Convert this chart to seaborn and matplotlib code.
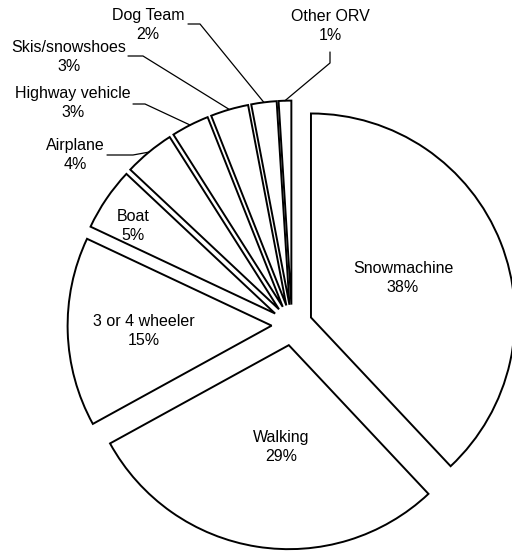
import matplotlib
matplotlib.use("Agg")
import matplotlib.pyplot as plt
import numpy as np
import seaborn as sns

# share of trips by travel mode (%)
categories = ["Snowmachine", "Walking", "3 or 4 wheeler", "Boat", "Airplane",
              "Highway vehicle", "Skis/snowshoes", "Dog Team", "Other ORV"]
shares = [38, 29, 15, 5, 4, 3, 3, 2, 1]

# label layout in image pixels (x, y from top)
label_pos = [(403, 278), (281, 447), (144, 331), (133, 226), (75, 155),
             (73, 103), (69, 57), (148, 25), (330, 26)]
# leader lines for the small slices: start and knee points in pixels
leaders = {
    4: [(107, 155), (133, 155)],
    5: [(133, 104), (145, 104)],
    6: [(128, 56), (143, 56)],
    7: [(188, 24), (200, 24)],
    8: [(330, 52), (330, 63)],
}

W, H = 512, 552
RADIUS = 204


def main():
    sns.set_theme(style="white")
    plt.rcParams["font.family"] = ["Liberation Sans", "DejaVu Sans"]

    fig = plt.figure(figsize=(W / 100, H / 100), dpi=100)
    ax = fig.add_axes([0, 0, 1, 1])
    # explode is in data units here, so scale by the radius
    wedges, _ = ax.pie(
        shares,
        startangle=90,
        counterclock=False,
        explode=[0.1 * RADIUS] * len(shares),
        radius=RADIUS,
        center=(292, H - 325),
        colors=["white"] * len(shares),
        wedgeprops=dict(edgecolor="black", linewidth=1.4, joinstyle="miter"),
        frame=True,
    )
    ax.set_xlim(0, W)
    ax.set_ylim(0, H)
    ax.set_aspect("equal")
    ax.axis("off")

    for i, (cat, val) in enumerate(zip(categories, shares)):
        x, y = label_pos[i]
        ax.text(x, H - y, f"{cat}\n{val}%", ha="center", va="center",
                fontsize=11.5, linespacing=1.3, color="black")
        if i in leaders:
            w = wedges[i]
            mid = np.deg2rad((w.theta1 + w.theta2) / 2)
            ex = w.center[0] + w.r * np.cos(mid)
            ey = w.center[1] + w.r * np.sin(mid)
            pts = [(px, H - py) for px, py in leaders[i]] + [(ex, ey)]
            xs, ys = zip(*pts)
            ax.plot(xs, ys, color="black", linewidth=0.9)

    fig.savefig("out.png", dpi=100, facecolor="white")


if __name__ == "__main__":
    main()
